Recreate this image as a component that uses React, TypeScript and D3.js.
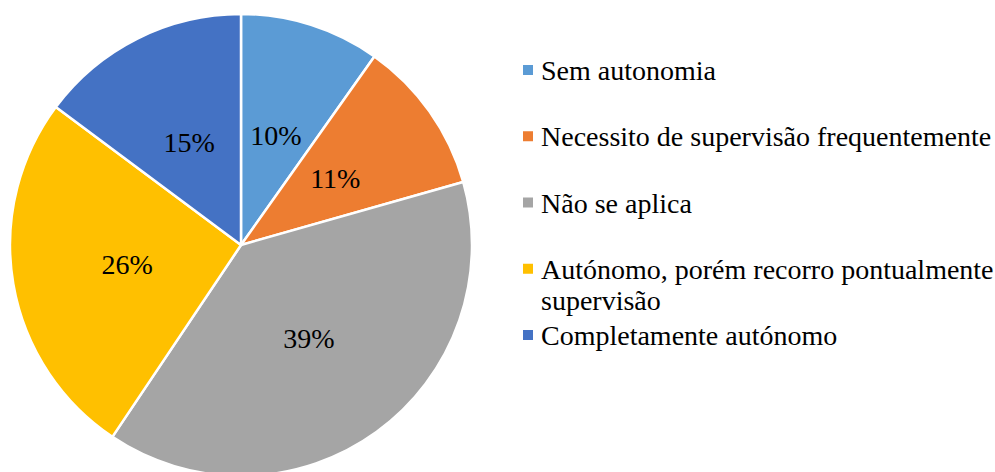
import * as d3 from 'd3';
import React, { useEffect, useRef } from 'react';

const categories = [
    "Sem autonomia",
    "Necessito de supervisão frequentemente",
    "Não se aplica",
    "Autónomo, porém recorro pontualmente supervisão",
    "Completamente autónomo"
];
const shares = [9.8, 10.8, 38.8, 25.8, 14.8];
const percentLabels = ["10%", "11%", "39%", "26%", "15%"];
const officeColors = ["#5b9bd5", "#ed7d31", "#a5a5a5", "#ffc000", "#4472c4"];

const FONT = "Liberation Serif, Times New Roman, DejaVu Serif, serif";

function wrapLegend(selection, maxWidth, lineHeight) {
    selection.each(function () {
        const text = d3.select(this);
        const words = text.text().split(/\s+/);
        const x = text.attr("x");
        text.text(null);
        let line = [];
        let tspan = text.append("tspan").attr("x", x).attr("dy", 0);
        words.forEach(word => {
            line.push(word);
            tspan.text(line.join(" "));
            if (tspan.node().getComputedTextLength() > maxWidth && line.length > 1) {
                line.pop();
                tspan.text(line.join(" "));
                line = [word];
                tspan = text.append("tspan").attr("x", x).attr("dy", lineHeight).text(word);
            }
        });
    });
}

const App = () => {
    const chartRef = useRef(null);

    useEffect(() => {
        const container = d3.select(chartRef.current);
        container.selectAll("*").remove();

        const width = 995;
        const height = 472;
        const radius = 231;
        const cx = 241;
        const cy = 245;

        const svg = container.append("svg")
            .attr("width", width)
            .attr("height", height)
            .style("position", "absolute")
            .style("left", 0)
            .style("top", 0);

        svg.append("rect").attr("width", width).attr("height", height).attr("fill", "#fff");

        const data = categories.map((name, i) => ({ name, value: shares[i], label: percentLabels[i], color: officeColors[i] }));

        const pie = d3.pie().value(d => d.value).sort(null);
        const arc = d3.arc().innerRadius(0).outerRadius(radius);
        const labelArc = d3.arc().innerRadius(radius / 2).outerRadius(radius / 2);

        const g = svg.append("g").attr("transform", `translate(${cx},${cy})`);
        const slices = pie(data);

        g.selectAll("path")
            .data(slices)
            .enter().append("path")
            .attr("d", arc)
            .attr("fill", d => d.data.color)
            .attr("stroke", "#fff")
            .attr("stroke-width", 2.5)
            .attr("stroke-linejoin", "round");

        g.selectAll("text")
            .data(slices)
            .enter().append("text")
            .attr("transform", d => `translate(${labelArc.centroid(d)})`)
            .attr("dy", "0.35em")
            .attr("text-anchor", "middle")
            .attr("font-family", FONT)
            .attr("font-size", 28)
            .attr("fill", "#000")
            .text(d => d.data.label);

        // legend
        const legendY = d3.scaleLinear().domain([0, categories.length - 1]).range([80, 345]);
        const legend = svg.append("g");

        data.forEach((d, i) => {
            legend.append("rect")
                .attr("x", 523)
                .attr("y", legendY(i) - 15)
                .attr("width", 10)
                .attr("height", 10)
                .attr("fill", d.color);

            legend.append("text")
                .attr("x", 541)
                .attr("y", legendY(i))
                .attr("font-family", FONT)
                .attr("font-size", 28)
                .attr("fill", "#000")
                .text(d.name)
                .call(wrapLegend, 454, 31);
        });
    }, []);

    return <div ref={chartRef} />;
};

export default App;
